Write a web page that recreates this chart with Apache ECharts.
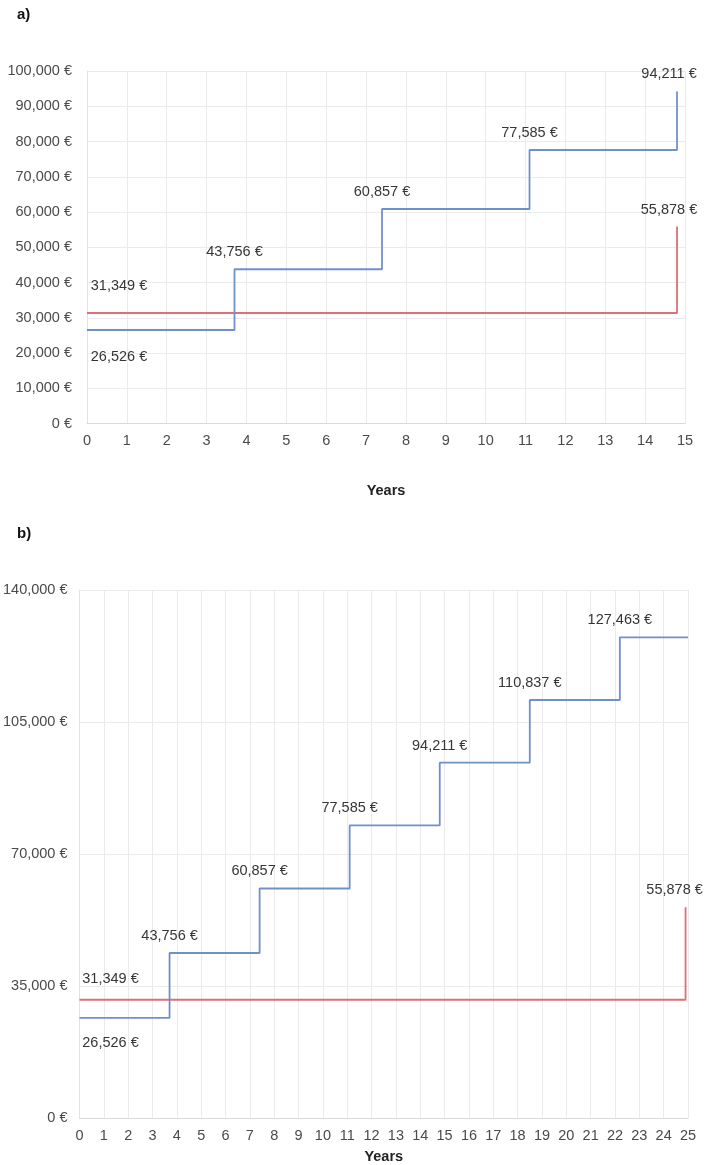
<!DOCTYPE html>
<html lang="en">
<head>
    <meta charset="UTF-8">
    <title>Earnings steps</title>
    <script src="https://cdn.jsdelivr.net/npm/echarts@6/dist/echarts.min.js"></script>
    <style>
        body { margin: 0; background: #fff; }
        #chart { width: 708px; height: 1165px; }
    </style>
</head>
<body>
    <div id="chart"></div>
    <script>
        // chart a) : 15 years
        const yearsA = [0, 3.7, 7.4, 11.1, 14.8];
        const salaryA = [26526, 43756, 60857, 77585, 94211];
        const baseYearsA = [0, 14.8];
        const baseA = [31349, 55878];

        // chart b) : 25 years
        const yearsB = [0, 3.7, 7.4, 11.1, 14.8, 18.5, 22.2, 25];
        const salaryB = [26526, 43756, 60857, 77585, 94211, 110837, 127463, 127463];
        const baseYearsB = [0, 24.9];
        const baseB = [31349, 55878];

        const BLUE = '#7090cb';
        const RED = '#dc6f78';

        function euro(v) {
            return String(Math.round(v)).replace(/\B(?=(\d{3})+(?!\d))/g, ',') + ' €';
        }

        const above = { show: true, position: 'top' };
        const off = (pos, o) => ({ show: true, position: pos, offset: o });
        const hide = { show: false };

        function pts(xs, ys, labels) {
            return xs.map((x, i) => ({ value: [x, ys[i]], label: labels[i] || hide }));
        }

        function stepLine(xi, color, data) {
            return {
                type: 'line',
                step: 'end',
                xAxisIndex: xi,
                yAxisIndex: xi,
                data: data,
                symbol: 'circle',
                symbolSize: 1,
                itemStyle: { color: 'rgba(0,0,0,0)' },
                lineStyle: { color: color, width: 1.8 },
                label: {
                    color: '#363636',
                    fontSize: 14.5,
                    fontFamily: 'Liberation Sans',
                    distance: 9,
                    formatter: p => euro(p.value[1])
                },
                emphasis: { disabled: true },
                animation: false
            };
        }

        const axisText = { color: '#4a4a4a', fontSize: 14.5, fontFamily: 'Liberation Sans' };
        const gridLine = { show: true, lineStyle: { color: '#ebebeb', width: 1 } };

        function xAxis(gi, max, gap) {
            return {
                type: 'value', gridIndex: gi, min: 0, max: max, interval: 1,
                name: 'Years', nameLocation: 'middle', nameGap: gap,
                nameTextStyle: { color: '#222', fontSize: 14.5, fontWeight: 'bold', fontFamily: 'Liberation Sans' },
                axisLine: { show: true, lineStyle: { color: '#d9d9d9' } },
                axisTick: { show: false },
                axisLabel: Object.assign({ margin: 10 }, axisText),
                splitLine: gridLine
            };
        }

        function yAxis(gi, max, step, margin) {
            return {
                type: 'value', gridIndex: gi, min: 0, max: max, interval: step,
                axisLine: { show: true, lineStyle: { color: '#e3e3e3' } },
                axisTick: { show: false },
                axisLabel: Object.assign({ margin: margin, formatter: euro }, axisText),
                splitLine: gridLine
            };
        }

        const chart = echarts.init(document.getElementById('chart'));
        chart.setOption({
            animation: false,
            title: [
                { text: 'a)', left: 12, top: 2, textStyle: { fontSize: 15, fontWeight: 'bold', color: '#111', fontFamily: 'Liberation Sans' } },
                { text: 'b)', left: 12, top: 521, textStyle: { fontSize: 15, fontWeight: 'bold', color: '#111', fontFamily: 'Liberation Sans' } }
            ],
            grid: [
                { left: 87, top: 71, width: 598, height: 352.5 },
                { left: 79.5, top: 590, width: 608.5, height: 528 }
            ],
            xAxis: [xAxis(0, 15, 60), xAxis(1, 25, 31)],
            yAxis: [yAxis(0, 100000, 10000, 15), yAxis(1, 140000, 35000, 12)],
            series: [
                stepLine(0, RED, pts(baseYearsA, baseA, [
                    off('top', [32, -10]), off('top', [-8, 0])
                ])),
                stepLine(0, BLUE, pts(yearsA, salaryA, [
                    off('bottom', [32, 10]), above, above, above, off('top', [-8, 0])
                ])),
                stepLine(1, RED, pts(baseYearsB, baseB, [
                    off('top', [31, -4]), off('top', [-11, 0])
                ])),
                stepLine(1, BLUE, pts(yearsB, salaryB, [
                    off('bottom', [31, 8]), above, above, above, above, above, above
                ]))
            ]
        });
    </script>
</body>
</html>
